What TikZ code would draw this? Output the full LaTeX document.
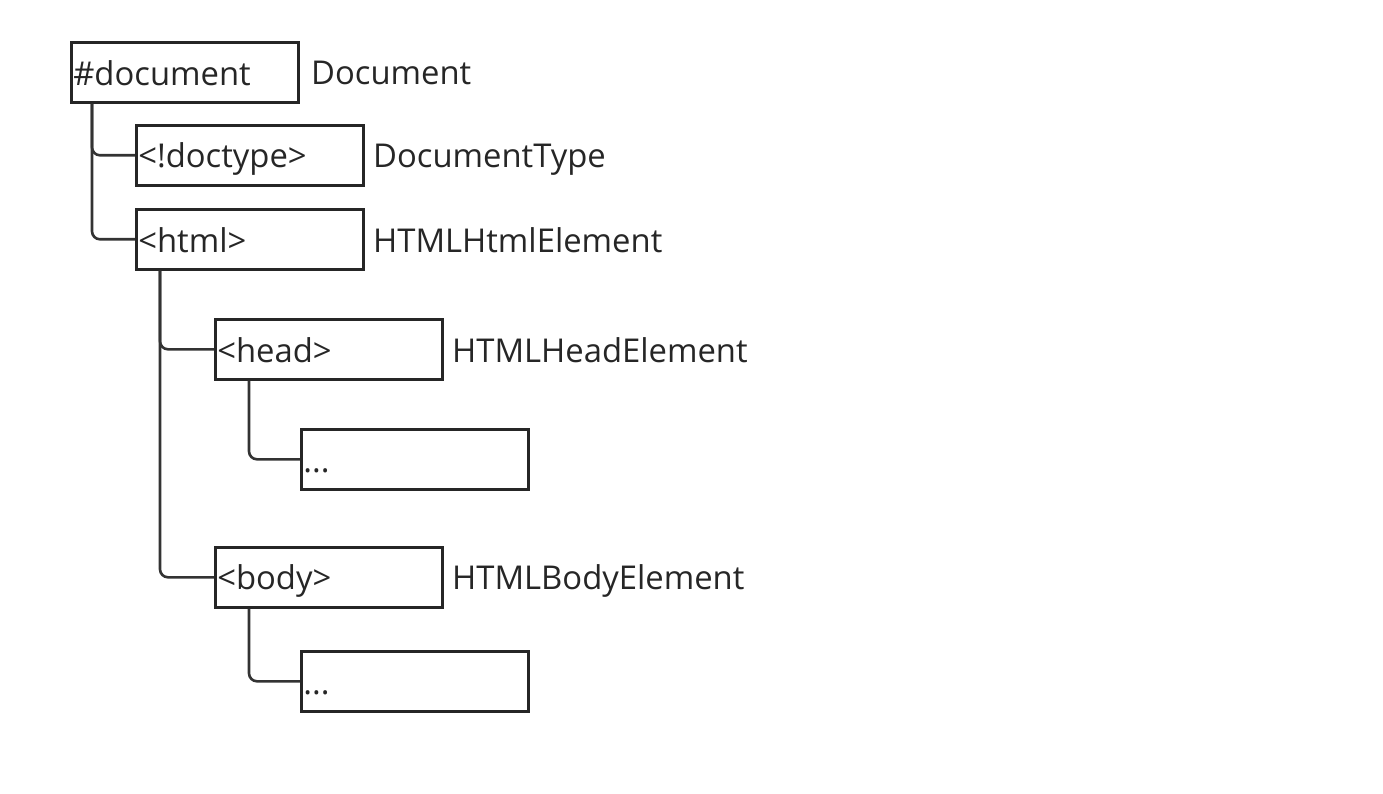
\documentclass[tikz,border=0pt]{standalone}
\usepackage{fontspec}
\setmainfont{Open Sans}
\usetikzlibrary{positioning}

\newcommand{\tstrut}{\rule[-6pt]{0pt}{38pt}}

\tikzset{
  elem/.style={draw=black!85, line width=2.6pt, rectangle, minimum width=227pt, minimum height=60pt,
    text width=223pt, align=left, inner xsep=2pt, inner ysep=0pt, anchor=north west},
  kind/.style={anchor=west, inner sep=0pt},
  branch/.style={draw=black!80, line width=2.6pt, rounded corners=8pt}
}

\begin{document}
\begin{tikzpicture}[x=1pt,y=-1pt,font=\fontsize{32.8}{38}\selectfont\color{black!85}]

\useasboundingbox (0,0) rectangle (1383,794);

% Document node
\node[elem] (doc) at (70,41) {\tstrut\#document};
\node[kind] (docT) at (311,72) {\tstrut Document};

% Children of the document
\node[elem] (doctype) at (135,124) {\tstrut<!doctype>};
\node[kind] (doctypeT) at (373,155) {\tstrut DocumentType};
\node[elem] (html) at (135,208) {\tstrut<html>};
\node[kind] (htmlT) at (373,239) {\tstrut HTMLHtmlElement};

% Children of html
\node[elem] (head) at (214,318) {\tstrut<head>};
\node[kind] (headT) at (452,349) {\tstrut HTMLHeadElement};
\node[elem] (body) at (214,546) {\tstrut<body>};
\node[kind] (bodyT) at (452,577) {\tstrut HTMLBodyElement};

% Leaves
\node[elem] (headsub) at (300,428) {\tstrut...};
\node[elem] (bodysub) at (300,650) {\tstrut...};

% Stems
\coordinate (docS) at ([xshift=22pt]doc.south west);
\coordinate (htmlS) at ([xshift=25pt]html.south west);
\coordinate (headS) at ([xshift=35pt]head.south west);
\coordinate (bodyS) at ([xshift=35pt]body.south west);

% Branches
\draw[branch] (docS) |- (doctype.west);
\draw[branch] (docS) |- (html.west);
\draw[branch] (htmlS) |- (head.west);
\draw[branch] (htmlS) |- (body.west);
\draw[branch] (headS) |- (headsub.west);
\draw[branch] (bodyS) |- (bodysub.west);

\end{tikzpicture}
\end{document}
